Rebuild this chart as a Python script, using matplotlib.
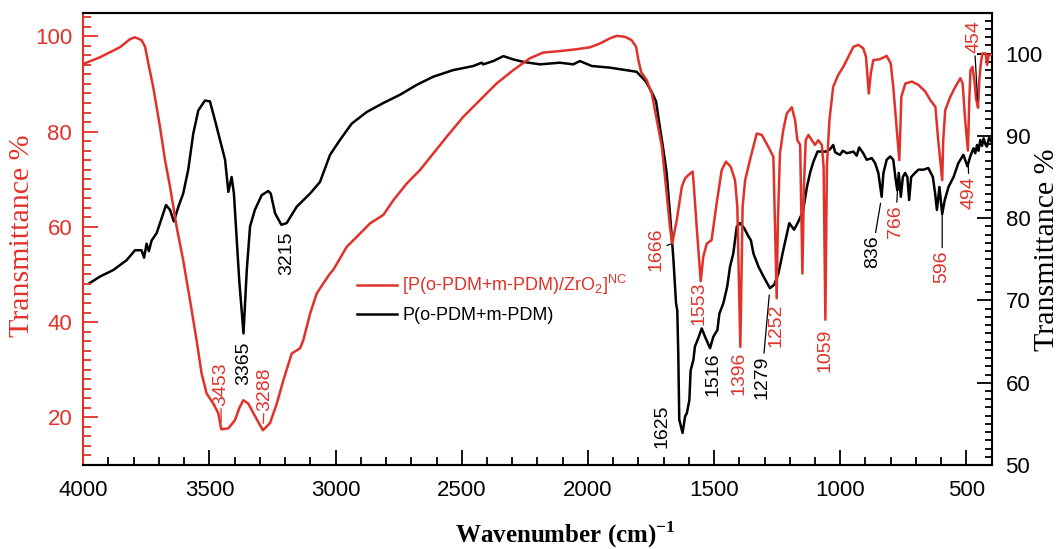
import matplotlib
matplotlib.use("Agg")
import matplotlib.pyplot as plt
from matplotlib.ticker import MultipleLocator

plt.rcParams['font.family'] = ['Liberation Sans', 'DejaVu Sans']
plt.rcParams['mathtext.fontset'] = 'custom'
plt.rcParams['mathtext.rm'] = 'Liberation Sans'
plt.rcParams['mathtext.it'] = 'Liberation Sans:italic'
plt.rcParams['mathtext.bf'] = 'Liberation Serif:bold'

RED = '#e0322a'

# ===== composite spectrum (left axis) =====
wn_nc = [4000, 3934, 3855, 3815, 3795, 3769, 3755, 3742, 3723, 3696, 3676, 3656, 3630, 3604,
         3577, 3551, 3531, 3511, 3485, 3465, 3453, 3425, 3399, 3382, 3366, 3346, 3326, 3300,
         3288, 3260, 3233, 3207, 3174, 3141, 3128, 3101, 3075, 3049, 3022, 3009, 2956, 2903,
         2864, 2811, 2771, 2718, 2666, 2613, 2560, 2494, 2428, 2362, 2296, 2230, 2177, 2111,
         2044, 1992, 1952, 1912, 1886, 1853, 1827, 1809, 1800, 1789, 1767, 1747, 1727, 1707,
         1688, 1675, 1666, 1648, 1628, 1615, 1595, 1585, 1580, 1569, 1553, 1543, 1529, 1510,
         1490, 1470, 1453, 1434, 1417, 1408, 1396, 1387, 1377, 1358, 1331, 1311, 1285, 1265,
         1259, 1252, 1247, 1239, 1226, 1212, 1192, 1179, 1170, 1159, 1150, 1144, 1137, 1126,
         1113, 1100, 1087, 1073, 1066, 1059, 1053, 1043, 1028, 1008, 988, 968, 948, 929,
         909, 898, 887, 879, 869, 843, 816, 800, 790, 779, 766, 762, 758, 742, 716, 690,
         663, 643, 623, 613, 596, 592, 584, 564, 544, 524, 515, 505, 494, 489, 484, 476,
         468, 462, 454, 449, 443, 437, 424, 418, 412, 400]
tr_nc = [94.2, 95.6, 97.7, 99.4, 99.8, 99.2, 97.8, 94.3, 89.4, 81.0, 74.0, 68.4, 60.0, 53.0,
         44.6, 36.2, 29.2, 25.0, 22.9, 20.9, 17.5, 17.7, 19.4, 21.9, 23.6, 22.9, 20.9, 18.4,
         17.3, 18.8, 22.9, 27.8, 33.4, 34.5, 36.2, 41.8, 46.0, 48.1, 50.2, 51.0, 55.8, 58.6,
         60.7, 62.5, 65.6, 69.1, 71.9, 75.4, 78.9, 83.1, 86.6, 90.1, 92.9, 95.4, 96.6, 96.9,
         97.3, 97.7, 98.5, 99.6, 100.1, 99.9, 99.2, 97.8, 95.0, 92.5, 90.8, 88.0, 82.4, 76.8,
         67.0, 60.0, 56.5, 61.4, 68.4, 70.2, 71.2, 71.6, 68.4, 60.0, 48.6, 53.7, 56.5, 57.2,
         64.9, 71.9, 73.7, 72.6, 69.8, 64.2, 34.8, 64.2, 69.8, 74.0, 79.6, 79.3, 76.8, 74.7,
         61.4, 45.0, 61.4, 75.4, 80.3, 83.8, 85.1, 82.4, 78.2, 77.2, 50.2, 68.4, 78.2, 79.3,
         78.2, 77.2, 78.2, 77.2, 72.6, 40.5, 72.6, 82.4, 89.4, 91.9, 93.6, 95.7, 97.8, 98.2,
         97.5, 95.7, 88.0, 92.2, 95.0, 95.2, 95.9, 94.3, 89.4, 82.4, 74.0, 80.3, 87.3, 90.1,
         90.5, 89.8, 88.4, 86.6, 85.2, 78.9, 69.8, 78.2, 84.5, 87.3, 89.4, 91.2, 90.1, 82.4,
         76.0, 86.0, 92.9, 93.6, 90.5, 87.0, 85.0, 90.8, 94.3, 96.4, 96.4, 94.0, 96.0, 96.2]

# ===== polymer spectrum (right axis) =====
wn_p = [3975, 3934, 3881, 3828, 3795, 3769, 3759, 3749, 3740, 3729, 3709, 3696, 3683, 3672,
        3656, 3641, 3623, 3604, 3584, 3564, 3544, 3518, 3498, 3478, 3458, 3438, 3425, 3412,
        3403, 3395, 3382, 3365, 3352, 3339, 3320, 3293, 3267, 3257, 3240, 3215, 3194, 3154,
        3101, 3062, 3022, 2983, 2936, 2877, 2811, 2745, 2679, 2613, 2534, 2454, 2421, 2415,
        2375, 2335, 2296, 2256, 2190, 2111, 2058, 2032, 1985, 1913, 1807, 1770, 1745, 1730,
        1721, 1701, 1688, 1675, 1661, 1651, 1646, 1642, 1638, 1625, 1615, 1608, 1598, 1593,
        1582, 1576, 1563, 1549, 1536, 1516, 1503, 1487, 1479, 1463, 1448, 1437, 1424, 1410,
        1397, 1381, 1364, 1354, 1344, 1324, 1304, 1279, 1262, 1245, 1226, 1202, 1183, 1166,
        1148, 1132, 1119, 1106, 1090, 1073, 1054, 1040, 1028, 1020, 1014, 1001, 990, 974,
        960, 948, 935, 925, 909, 895, 875, 862, 849, 836, 829, 816, 802, 790, 780, 774,
        768, 760, 752, 743, 734, 727, 719, 704, 690, 670, 651, 633, 624, 617, 607, 596,
        586, 571, 551, 532, 512, 496, 485, 472, 465, 458, 452, 445, 438, 432, 425, 419,
        410, 401]
tr_p = [72.1, 72.9, 73.7, 74.9, 76.1, 76.1, 75.2, 76.9, 76.0, 77.3, 78.2, 79.4, 80.6, 81.6,
        81.0, 79.6, 81.4, 83.0, 85.9, 90.3, 93.1, 94.3, 94.2, 91.9, 89.5, 87.1, 83.2, 85.0,
        83.0, 79.0, 72.5, 66.0, 73.7, 79.0, 81.0, 82.8, 83.3, 83.0, 80.6, 79.2, 79.4, 81.4,
        83.0, 84.4, 87.7, 89.5, 91.5, 92.9, 94.0, 95.0, 96.2, 97.2, 98.0, 98.5, 98.9, 98.7,
        99.1, 99.7, 99.3, 99.0, 98.7, 98.9, 98.7, 99.1, 98.5, 98.3, 97.8, 96.6, 95.2, 94.2,
        92.3, 88.3, 85.5, 80.6, 74.9, 69.7, 68.8, 63.6, 55.5, 53.9, 55.9, 56.3, 57.9, 61.5,
        62.8, 64.4, 65.4, 66.6, 65.6, 64.2, 65.6, 66.4, 68.4, 69.7, 71.7, 74.1, 75.7, 79.0,
        79.4, 78.8, 77.8, 77.3, 75.7, 74.1, 72.9, 71.5, 71.9, 73.3, 76.1, 79.4, 78.6, 79.6,
        80.8, 83.8, 85.6, 86.9, 88.1, 88.1, 88.1, 88.4, 88.9, 88.0, 87.9, 87.7, 88.2, 87.9,
        88.0, 88.1, 87.6, 88.6, 87.9, 87.1, 87.3, 86.7, 85.5, 82.6, 85.5, 87.1, 87.5, 87.1,
        84.6, 83.4, 85.5, 82.6, 85.0, 85.5, 85.0, 82.2, 85.0, 85.5, 85.9, 85.9, 86.1, 85.0,
        83.0, 81.0, 83.8, 80.5, 82.2, 83.8, 85.0, 86.7, 87.7, 86.3, 87.5, 88.5, 87.9, 88.9,
        88.2, 89.5, 88.8, 89.7, 89.0, 88.7, 89.8, 89.3]

# ===== peak labels: (text, wavenumber, dx pt, dy pt, leader colour or None, shrink pt) =====
peaks_nc = [('3453', 3453, -0.4, 32.6, RED, 5), ('3288', 3288, 1.4, 29.7, RED, 5),
            ('1666', 1666, -11.9, -4.3, 'black', 1), ('1553', 1553, -1.0, -15.8, None, 0),
            ('1396', 1396, -1.0, -19.2, None, 0), ('1252', 1252, -0.4, -19.2, None, 0),
            ('1059', 1059, 0.0, -21.8, None, 0), ('766', 766, -2.6, -44.0, 'black', 19),
            ('596', 596, 0.0, -62.3, 'black', 21.5), ('494', 494, 0.8, -30.2, 'black', 9),
            ('454', 454, -2.9, 51.2, 'black', 5.6)]
peaks_p = [('3365', 3365, 0.4, -21.7, None, 0), ('3215', 3215, 3.8, -20.3, None, 0),
           ('1625', 1625, -14.5, 5.0, None, 0), ('1516', 1516, 2.4, -18.9, None, 0),
           ('1279', 1279, -5.8, -64.4, 'black', 5), ('836', 836, -6.7, -39.5, 'black', 4.7)]

fig = plt.figure(figsize=(10.58, 5.49), dpi=100)
ax = fig.add_axes([0.0787, 0.153, 0.8586, 0.8242])
ax2 = ax.twinx()

l1, = ax.plot(wn_nc, tr_nc, color=RED, lw=1.8, label=r'[P(o-PDM+m-PDM)/ZrO$_2$]$^{\mathrm{NC}}$')
l2, = ax2.plot(wn_p, tr_p, color='black', lw=1.8, label='P(o-PDM+m-PDM)')

# red trace above the black one
ax.set_zorder(ax2.get_zorder() + 1)
ax.patch.set_visible(False)

ax.set_xlim(4000, 400)
ax.set_ylim(10, 105)
ax2.set_ylim(50, 105)

ax.xaxis.set_major_locator(MultipleLocator(500))
ax.xaxis.set_minor_locator(MultipleLocator(100))
ax.yaxis.set_major_locator(MultipleLocator(20))
ax.yaxis.set_minor_locator(MultipleLocator(2))
ax2.yaxis.set_major_locator(MultipleLocator(10))
ax2.yaxis.set_minor_locator(MultipleLocator(1))

for s in ax.spines.values():
    s.set_linewidth(1.5)
for s in ax2.spines.values():
    s.set_linewidth(1.5)
ax.spines['left'].set_color(RED)
ax.spines['right'].set_visible(False)
ax2.spines['left'].set_visible(False)

ax.tick_params(axis='x', which='both', direction='in', top=False, labelsize=16, pad=11, width=1.3)
ax.tick_params(axis='x', which='major', length=11)
ax.tick_params(axis='x', which='minor', length=6)
ax.tick_params(axis='y', which='both', direction='in', colors=RED, labelsize=16, pad=8, width=1.3)
ax.tick_params(axis='y', which='major', length=11)
ax.tick_params(axis='y', which='minor', length=6)
ax2.tick_params(axis='y', which='both', direction='in', labelsize=16, pad=10, width=1.3)
ax2.tick_params(axis='y', which='major', length=11)
ax2.tick_params(axis='y', which='minor', length=5)

ax.set_ylabel('Transmittance %', color=RED, family='Liberation Serif', fontsize=21.5)
ax.yaxis.label.set_verticalalignment('center')
ax.yaxis.set_label_coords(-0.0675, 0.506)
ax2.set_ylabel('Transmittance %', color='black', family='Liberation Serif', fontsize=21.5,
               rotation=90)
ax2.yaxis.label.set_verticalalignment('center')
ax2.yaxis.set_label_coords(1.061, 0.475)
ax.set_xlabel(r'Wavenumber (cm)$^{\mathbf{-1}}$', family='Liberation Serif',
              fontweight='bold', fontsize=18)
ax.xaxis.set_label_coords(0.531, -0.12)


def label_peaks(a, wn, tr, peaks, color):
    lookup = dict(zip(wn, tr))
    for txt, w, dx, dy, lc, shr in peaks:
        props = None
        if lc is not None:
            props = dict(arrowstyle='-', color=lc, lw=0.9, shrinkA=0, shrinkB=shr)
        a.annotate(txt, xy=(w, lookup[w]), xytext=(dx, dy), textcoords='offset points',
                   rotation=90, ha='center', va='center', fontsize=14, color=color,
                   arrowprops=props, annotation_clip=False)


label_peaks(ax, wn_nc, tr_nc, peaks_nc, RED)
label_peaks(ax2, wn_p, tr_p, peaks_p, 'black')

leg = ax.legend(handles=[l1, l2], loc='upper left', bbox_to_anchor=(357 / 1058, 1 - 273 / 549),
                bbox_transform=fig.transFigure, frameon=False, fontsize=13, handlelength=2.2,
                handletextpad=0.3, labelspacing=0.55, borderpad=0, borderaxespad=0)
leg.get_texts()[0].set_color(RED)

fig.savefig('out.png', dpi=100)
